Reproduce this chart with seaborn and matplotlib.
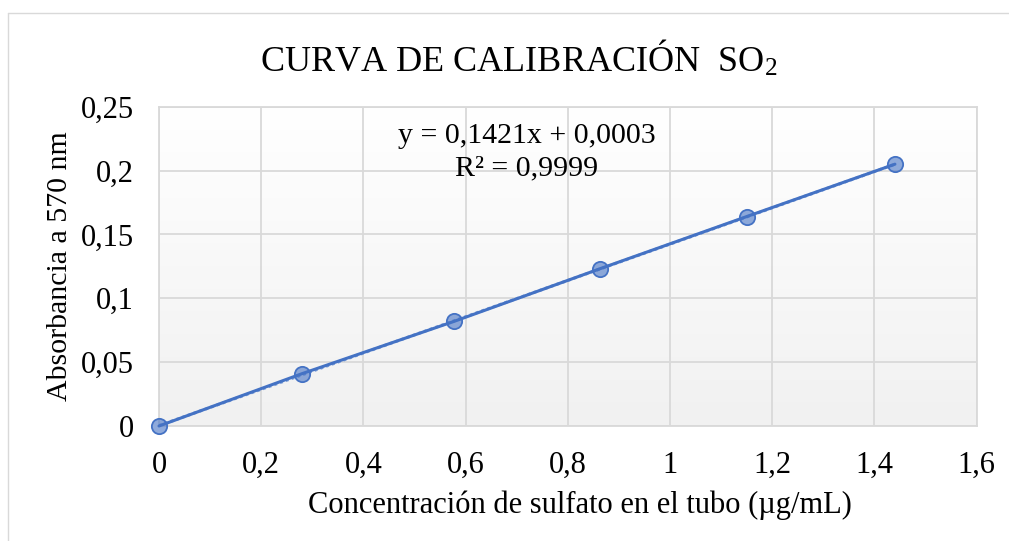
import numpy as np
import pandas as pd
import seaborn as sns
import matplotlib.pyplot as plt
from matplotlib.lines import Line2D

# ---- data ----
conc = [0.0, 0.28, 0.578, 0.862, 1.15, 1.44]
absorb = [0.0, 0.041, 0.082, 0.123, 0.164, 0.205]
x_ticks = [0, 0.2, 0.4, 0.6, 0.8, 1.0, 1.2, 1.4, 1.6]
y_ticks = [0, 0.05, 0.10, 0.15, 0.20, 0.25]
slope = 0.1421
intercept = 0.0003
r2 = 0.9999
title = r"CURVA DE CALIBRACIÓN  SO$_\mathregular{2}$"
xlabel = "Concentración de sulfato en el tubo (µg/mL)"
ylabel = "Absorbancia a 570 nm"

sns.set_theme(style="white")
plt.rcParams['font.family'] = ['Liberation Serif', 'DejaVu Serif']
plt.rcParams['mathtext.fontset'] = 'stix'
plt.rcParams['text.color'] = 'black'
plt.rcParams['axes.labelcolor'] = 'black'

W, H = 1009, 541
fig = plt.figure(figsize=(W / 100, H / 100), dpi=100)
fig.patch.set_facecolor('white')
L, R, T, B = 159, 976.7, 106.7, 426
ax = fig.add_axes([L / W, 1 - B / H, (R - L) / W, (B - T) / H])

df = pd.DataFrame({'x': conc, 'y': absorb})
blue = '#4472C4'

# gradient plot-area background (white top -> light grey bottom)
grad = np.linspace(0.0, 1.0, 256).reshape(-1, 1)
ax.imshow(grad, extent=[x_ticks[0], x_ticks[-1], y_ticks[0], y_ticks[-1]],
          aspect='auto', cmap=sns.blend_palette(['#f1f1f1', '#ffffff'], as_cmap=True),
          origin='lower', zorder=0)

# trendline
tx = np.array([min(conc), max(conc)])
trend = pd.DataFrame({'x': tx, 'y': slope * tx + intercept})
sns.lineplot(data=trend, x='x', y='y', ax=ax, color='#7fa0d8', lw=2.2,
             linestyle=(0, (1, 1)), zorder=3)

# data series
sns.lineplot(data=df, x='x', y='y', ax=ax, color=blue, lw=2.2, zorder=4,
             marker='o', markersize=11, markerfacecolor=(0.267, 0.447, 0.769, 0.6),
             markeredgecolor=blue, markeredgewidth=1.3, clip_on=False)

ax.set_xlim(x_ticks[0], x_ticks[-1])
ax.set_ylim(y_ticks[0], y_ticks[-1])
ax.set_xticks(x_ticks)
ax.set_yticks(y_ticks)
fmt = lambda v: f"{v:g}".replace('.', ',')
ax.set_xticklabels([fmt(v) for v in x_ticks])
ax.set_yticklabels([fmt(v) for v in y_ticks])
ax.tick_params(axis='both', length=0, labelsize=22, colors='black', pad=18)
ax.grid(True, color='#d9d9d9', lw=1.3)
ax.set_axisbelow(True)
for s in ax.spines.values():
    s.set_color('#d9d9d9')
    s.set_linewidth(1.3)
    s.set_visible(True)

ax.set_xlabel(xlabel, fontsize=22, color='black')
ax.set_ylabel(ylabel, fontsize=21.5, color='black')
ax.xaxis.set_label_coords((580 - L) / (R - L), -(490 - B) / (B - T))
ax.yaxis.set_label_coords(-(159 - 73) / (R - L), 0.5)

ax.text(0.7194, 0.2216, f"y = {fmt(slope)}x + {fmt(intercept)}", fontsize=21.5,
        ha='center', va='baseline', zorder=6)
ax.text(0.7194, 0.1966, f"R² = {fmt(r2)}", fontsize=21.5,
        ha='center', va='baseline', zorder=6)

fig.text(519 / W, 1 - 71 / H, title, fontsize=26, ha='center', va='baseline')

# chart border
fig.add_artist(Line2D([7.5 / W, 7.5 / W], [0, 1 - 13 / H], transform=fig.transFigure,
                      color='#d9d9d9', lw=1))
fig.add_artist(Line2D([7.5 / W, 1], [1 - 13 / H, 1 - 13 / H], transform=fig.transFigure,
                      color='#d9d9d9', lw=1))

fig.savefig('out.png', dpi=100)
